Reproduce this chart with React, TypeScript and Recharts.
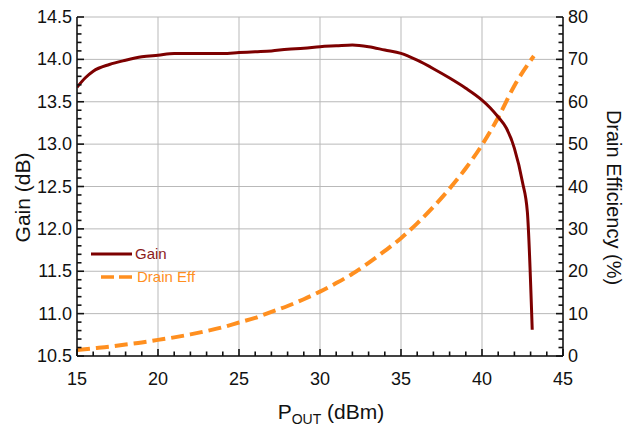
import {
  CartesianGrid,
  Legend,
  Line,
  LineChart,
  XAxis,
  YAxis,
} from "recharts";

document.body.style.margin = "0";

// Gain vs output power (left axis)
const gainPout = [15, 15.5, 16, 17, 18, 19, 20, 21, 22, 23, 24, 25, 26, 27, 28, 29, 30, 31, 32, 33, 34, 35, 36, 37, 38, 39, 40, 40.5, 41, 41.5, 42, 42.5, 42.8, 43.1];
const gainDb = [13.67, 13.78, 13.86, 13.94, 13.99, 14.03, 14.05, 14.07, 14.07, 14.07, 14.07, 14.08, 14.09, 14.1, 14.12, 14.13, 14.15, 14.16, 14.17, 14.15, 14.11, 14.07, 13.99, 13.89, 13.78, 13.66, 13.52, 13.43, 13.32, 13.19, 12.95, 12.55, 12.2, 10.81];

// Drain efficiency vs output power (right axis)
const effPout = [15, 16, 17, 18, 19, 20, 21, 22, 23, 24, 25, 26, 27, 28, 29, 30, 31, 32, 33, 34, 35, 36, 37, 38, 39, 40, 41, 42, 43.2];
const effPct = [1.4, 1.8, 2.2, 2.7, 3.2, 3.8, 4.4, 5.1, 5.9, 6.8, 7.9, 9.0, 10.4, 11.8, 13.4, 15.2, 17.2, 19.4, 22.0, 24.8, 27.8, 31.3, 35.2, 39.5, 44.3, 49.8, 56.3, 63.8, 70.8];

const xMajor = [15, 20, 25, 30, 35, 40, 45];
const gainMajor = [10.5, 11, 11.5, 12, 12.5, 13, 13.5, 14, 14.5];
const effMajor = [0, 10, 20, 30, 40, 50, 60, 70, 80];
const legendOrder = ["Gain", "Drain Eff"];

const steps = (from: number, to: number, step: number) => {
  const out: number[] = [];
  for (let v = from; v <= to + 1e-9; v += step) out.push(Math.round(v * 100) / 100);
  return out;
};
const xTicks = steps(15, 45, 1);
const gainTicks = steps(10.5, 14.5, 0.1);
const effTicks = steps(0, 80, 2);

const gainData = gainPout.map((x, i) => ({ x, gain: gainDb[i] }));
const effData = effPout.map((x, i) => ({ x, eff: effPct[i] }));

const FONT = '"Liberation Sans", Arial, sans-serif';
const AXIS = "#111";
const GAIN_COLOR = "#7d0000";
const EFF_COLOR = "#ff8f1f";

const isIn = (arr: number[], v: number) => arr.some((a) => Math.abs(a - v) < 1e-6);

function BottomTick(props: any) {
  const { x, y, payload } = props;
  const major = isIn(xMajor, payload.value);
  return (
    <g>
      <line x1={x} x2={x} y1={y} y2={y - (major ? 7 : 4.5)} stroke={AXIS} strokeWidth={1.6} />
      {major && (
        <text x={x} y={y + 29} textAnchor="middle" fontSize={18} fontFamily={FONT} fill="#111">
          {payload.value}
        </text>
      )}
    </g>
  );
}

function TopTick(props: any) {
  const { x, y, payload } = props;
  const major = isIn(xMajor, payload.value);
  return <line x1={x} x2={x} y1={y} y2={y + (major ? 6 : 4)} stroke={AXIS} strokeWidth={1.6} />;
}

function LeftTick(props: any) {
  const { x, y, payload } = props;
  const major = isIn(gainMajor, payload.value);
  return (
    <g>
      <line x1={x} x2={x + (major ? 7 : 4.5)} y1={y} y2={y} stroke={AXIS} strokeWidth={1.6} />
      {major && (
        <text x={x - 5} y={y + 6} textAnchor="end" fontSize={18} fontFamily={FONT} fill="#111">
          {payload.value.toFixed(1)}
        </text>
      )}
    </g>
  );
}

function RightTick(props: any) {
  const { x, y, payload } = props;
  const major = isIn(effMajor, payload.value);
  return (
    <g>
      <line x1={x} x2={x - (major ? 7 : 4.5)} y1={y} y2={y} stroke={AXIS} strokeWidth={1.6} />
      {major && (
        <text x={x + 5} y={y + 6} textAnchor="start" fontSize={18} fontFamily={FONT} fill="#111">
          {payload.value}
        </text>
      )}
    </g>
  );
}

function XTitle(props: any) {
  const { viewBox } = props;
  const cx = viewBox.x + viewBox.width / 2 + 11;
  return (
    <text x={cx} y={viewBox.y + 63} textAnchor="middle" fontSize={21} fontFamily={FONT} fill="#111">
      P
      <tspan fontSize={14} dy={5}>OUT</tspan>
      <tspan dy={-5}> (dBm)</tspan>
    </text>
  );
}

function LeftTitle(props: any) {
  const { viewBox } = props;
  const cx = viewBox.x + 22;
  const cy = viewBox.y + viewBox.height / 2 + 11;
  return (
    <text
      x={cx}
      y={cy}
      transform={`rotate(-90 ${cx} ${cy})`}
      textAnchor="middle"
      dominantBaseline="central"
      fontSize={21}
      fontFamily={FONT}
      fill="#111"
    >
      Gain (dB)
    </text>
  );
}

function RightTitle(props: any) {
  const { viewBox } = props;
  const cx = viewBox.x + 51;
  const cy = viewBox.y + viewBox.height / 2 + 11;
  return (
    <text
      x={cx}
      y={cy}
      transform={`rotate(90 ${cx} ${cy})`}
      textAnchor="middle"
      dominantBaseline="central"
      fontSize={20}
      fontFamily={FONT}
      fill="#111"
    >
      Drain Efficiency (%)
    </text>
  );
}

function LegendBox(props: any) {
  const items = [...(props.payload || [])].sort(
    (a: any, b: any) => legendOrder.indexOf(a.value) - legendOrder.indexOf(b.value)
  );
  return (
    <div style={{ fontFamily: FONT, fontSize: 15 }}>
      {items.map((it: any) => {
        const dashed = it.value === "Drain Eff";
        return (
          <div key={it.value} style={{ display: "flex", alignItems: "center", height: 23 }}>
            <svg width={44} height={10}>
              {dashed ? (
                <line x1={10} x2={41} y1={5} y2={5} stroke={EFF_COLOR} strokeWidth={3.5} strokeDasharray="13 5" />
              ) : (
                <line x1={0} x2={41} y1={5} y2={5} stroke={GAIN_COLOR} strokeWidth={3} />
              )}
            </svg>
            <span style={{ color: dashed ? EFF_COLOR : "#8b1a1a", marginLeft: dashed ? 2 : 0 }}>{it.value}</span>
          </div>
        );
      })}
    </div>
  );
}

export default function App() {
  return (
    <LineChart width={624} height={428} margin={{ top: 17, right: 0, bottom: 0, left: 0 }}>
      <CartesianGrid
        xAxisId="x"
        yAxisId="gain"
        stroke="#b9b9b9"
        strokeWidth={1}
        verticalValues={xMajor}
        horizontalValues={gainMajor}
      />
      <XAxis
        xAxisId="x"
        type="number"
        dataKey="x"
        domain={[15, 45]}
        ticks={xTicks}
        interval={0}
        height={72}
        tickSize={0}
        tickMargin={0}
        tickLine={false}
        axisLine={{ stroke: AXIS, strokeWidth: 1.5 }}
        tick={<BottomTick />}
        label={{ content: <XTitle /> }}
        allowDataOverflow
      />
      <XAxis
        xAxisId="top"
        orientation="top"
        type="number"
        dataKey="x"
        domain={[15, 45]}
        ticks={xTicks}
        interval={0}
        height={0}
        tickSize={0}
        tickMargin={0}
        tickLine={false}
        axisLine={{ stroke: AXIS, strokeWidth: 1.5 }}
        tick={<TopTick />}
        allowDataOverflow
      />
      <YAxis
        yAxisId="gain"
        type="number"
        domain={[10.5, 14.5]}
        ticks={gainTicks}
        interval={0}
        width={77}
        tickSize={0}
        tickMargin={0}
        tickLine={false}
        axisLine={{ stroke: AXIS, strokeWidth: 1.5 }}
        tick={<LeftTick />}
        label={{ content: <LeftTitle /> }}
        allowDataOverflow
      />
      <YAxis
        yAxisId="eff"
        orientation="right"
        type="number"
        domain={[0, 80]}
        ticks={effTicks}
        interval={0}
        width={61}
        tickSize={0}
        tickMargin={0}
        tickLine={false}
        axisLine={{ stroke: AXIS, strokeWidth: 1.5 }}
        tick={<RightTick />}
        label={{ content: <RightTitle /> }}
        allowDataOverflow
      />
      <Legend
        layout="vertical"
        align="center"
        verticalAlign="middle"
        content={<LegendBox />}
        wrapperStyle={{ position: "absolute", left: 91, top: 242, width: 140 }}
      />
      <Line
        xAxisId="x"
        yAxisId="eff"
        data={effData}
        dataKey="eff"
        name="Drain Eff"
        type="monotone"
        stroke={EFF_COLOR}
        strokeWidth={4}
        strokeDasharray="13 6"
        dot={false}
        isAnimationActive={false}
      />
      <Line
        xAxisId="x"
        yAxisId="gain"
        data={gainData}
        dataKey="gain"
        name="Gain"
        type="monotone"
        stroke={GAIN_COLOR}
        strokeWidth={3}
        dot={false}
        isAnimationActive={false}
      />
    </LineChart>
  );
}
